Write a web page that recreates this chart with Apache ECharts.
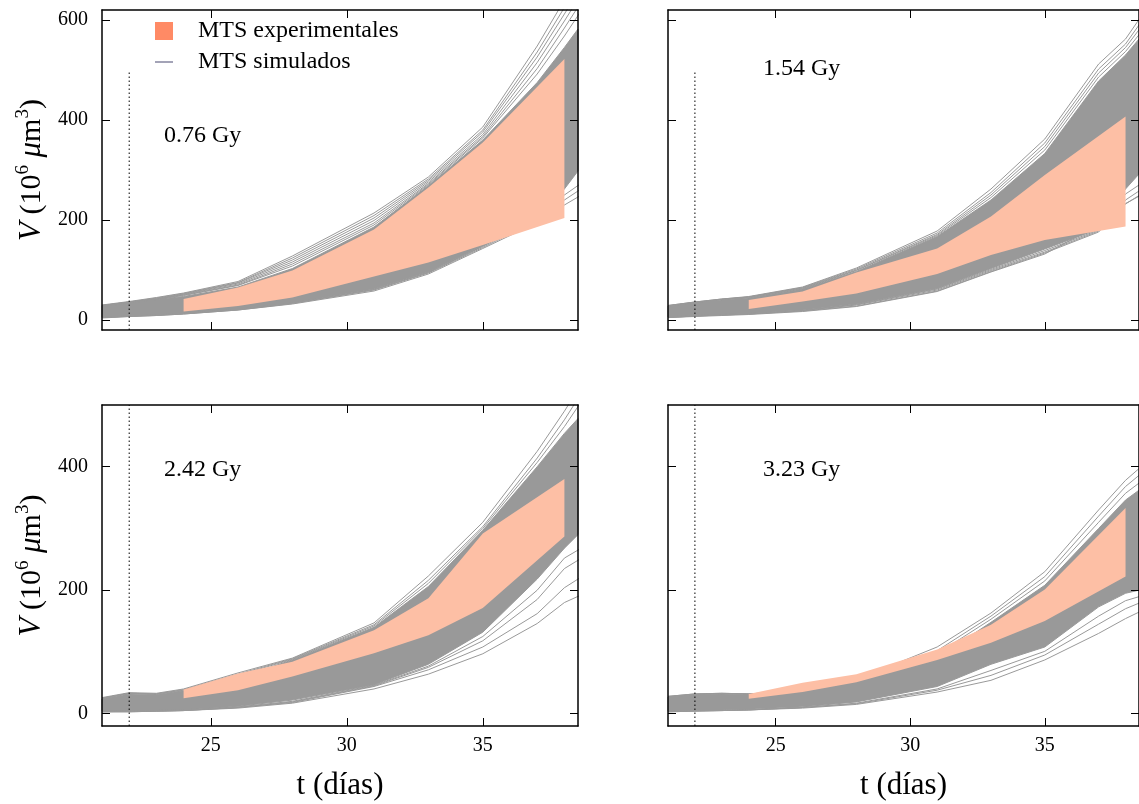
<!DOCTYPE html>
<html>
<head>
<meta charset="utf-8">
<script src="https://cdn.jsdelivr.net/npm/echarts@6/dist/echarts.min.js"></script>
<style>html,body{margin:0;padding:0;background:#fff;}#chart{width:1139px;height:804px;}</style>
</head>
<body>
<div id="chart"></div>
<script>
// ---- data ----
const simDays = [21, 22, 23, 24, 26, 28, 31, 33, 35, 37, 38, 39];
const coreDays = [21, 22, 23, 24, 26, 28, 31, 33, 35, 37, 38, 38.5];
const expDays = [24, 26, 28, 31, 33, 35, 38];
const xTicks = [25, 30, 35];
const yTicksTop = [0, 200, 400, 600];
const yTicksBottom = [0, 200, 400];
const doseLabels = ['0.76 Gy', '1.54 Gy', '2.42 Gy', '3.23 Gy'];
const irradiationDay = [22, 22];
const markerRange = [-20, 500];

const exp076Upper = [42, 65, 99, 181, 265, 355, 522];
const exp076Lower = [17, 28, 45, 87, 115, 150, 204];
const core076Upper = [29, 35, 41, 47, 66, 103, 186, 269, 360, 475, 545, 582];
const core076Lower = [5, 8, 10, 13, 21, 34, 62, 96, 148, 205, 262, 298];
const sim076 = [
  [30, 37, 45, 54, 77, 128, 214, 286, 386, 548, 640, 735],
  [29, 36, 44, 53, 75, 124, 209, 282, 380, 536, 625, 715],
  [29, 36, 43, 52, 74, 120, 204, 279, 376, 526, 612, 700],
  [28, 35, 42, 51, 72, 116, 199, 276, 371, 515, 598, 685],
  [28, 35, 42, 50, 70, 112, 194, 273, 367, 503, 584, 668],
  [27, 34, 41, 49, 69, 108, 190, 271, 364, 492, 568, 650],
  [4, 7, 9, 12, 20, 32, 58, 92, 143, 195, 230, 262],
  [5, 7, 9, 12, 20, 33, 60, 94, 145, 199, 240, 276],
  [5, 8, 10, 13, 21, 34, 61, 95, 147, 203, 250, 288]
];

const exp154Upper = [40, 57, 95, 143, 207, 290, 407];
const exp154Lower = [22, 37, 53, 92, 130, 160, 187];
const core154Upper = [28, 35, 40, 44, 62, 97, 167, 240, 333, 478, 530, 562];
const core154Lower = [6, 9, 11, 13, 20, 32, 63, 103, 142, 182, 262, 292];
const sim154 = [
  [29, 36, 42, 47, 66, 104, 178, 262, 362, 512, 562, 640],
  [29, 36, 42, 46, 65, 102, 174, 255, 354, 502, 552, 628],
  [28, 35, 41, 46, 64, 100, 171, 250, 347, 494, 545, 616],
  [28, 35, 41, 45, 63, 99, 169, 245, 340, 486, 537, 604],
  [5, 7, 9, 11, 17, 27, 57, 96, 132, 190, 233, 262],
  [5, 8, 10, 12, 18, 28, 58, 97, 134, 176, 232, 266],
  [5, 8, 10, 12, 19, 30, 60, 99, 136, 178, 240, 276],
  [6, 9, 11, 13, 19, 31, 62, 101, 139, 180, 252, 288]
];

const exp242Upper = [39, 65, 84, 135, 187, 292, 380];
const exp242Lower = [25, 38, 60, 98, 127, 171, 287];
const core242Upper = [24, 32, 31, 37, 58, 87, 140, 206, 297, 400, 454, 478];
const core242Lower = [4, 4, 5, 6, 12, 22, 47, 80, 132, 218, 268, 290];
const sim242 = [
  [26, 34, 33, 40, 66, 90, 147, 223, 310, 425, 490, 560],
  [25, 33, 32, 39, 64, 89, 144, 216, 303, 414, 476, 545],
  [25, 33, 32, 38, 62, 88, 142, 211, 300, 407, 465, 530],
  [3, 3, 4, 5, 9, 17, 40, 64, 97, 146, 180, 200],
  [3, 3, 4, 5, 10, 18, 44, 71, 108, 162, 204, 232],
  [3, 4, 4, 5, 10, 19, 45, 75, 118, 185, 235, 262],
  [4, 4, 5, 6, 11, 20, 46, 77, 125, 200, 252, 278]
];

const exp323Upper = [32, 50, 64, 104, 144, 201, 333];
const exp323Lower = [24, 35, 51, 87, 115, 150, 222];
const core323Upper = [27, 31, 32, 31, 36, 52, 90, 148, 208, 300, 346, 362];
const core323Lower = [4, 5, 6, 7, 11, 19, 44, 80, 108, 173, 195, 200];
const sim323 = [
  [28, 32, 33, 32, 37, 55, 108, 163, 230, 330, 378, 416],
  [28, 32, 33, 32, 37, 54, 102, 158, 222, 320, 368, 404],
  [27, 31, 32, 32, 36, 53, 97, 153, 215, 310, 357, 390],
  [3, 4, 5, 6, 9, 15, 35, 54, 87, 130, 154, 175],
  [3, 4, 5, 6, 10, 16, 38, 62, 95, 145, 170, 188],
  [4, 5, 5, 6, 10, 17, 40, 70, 101, 158, 183, 196]
];

// ---- layout / style ----
const FONT = 'Liberation Serif';
const GRAY = '#999999';
const SALMON = '#FDBFA5';
const panels = [
  {grid: {left: 102, top: 10, width: 476, height: 320}, yMax: 620, yTicks: yTicksTop, showY: true, showX: false,
   expU: exp076Upper, expL: exp076Lower, coreU: core076Upper, coreL: core076Lower, sims: sim076, label: doseLabels[0], lx: 164, ly: 124},
  {grid: {left: 668, top: 10, width: 476, height: 320}, yMax: 620, yTicks: yTicksTop, showY: false, showX: false,
   expU: exp154Upper, expL: exp154Lower, coreU: core154Upper, coreL: core154Lower, sims: sim154, label: doseLabels[1], lx: 763, ly: 57},
  {grid: {left: 102, top: 405, width: 476, height: 321}, yMax: 500, yTicks: yTicksBottom, showY: true, showX: true,
   expU: exp242Upper, expL: exp242Lower, coreU: core242Upper, coreL: core242Lower, sims: sim242, label: doseLabels[2], lx: 164, ly: 458},
  {grid: {left: 668, top: 405, width: 476, height: 321}, yMax: 500, yTicks: yTicksBottom, showY: false, showX: true,
   expU: exp323Upper, expL: exp323Lower, coreU: core323Upper, coreL: core323Lower, sims: sim323, label: doseLabels[3], lx: 763, ly: 458}
];

function bandRenderer(xs, up, lo, fill, stroke) {
  return function (params, api) {
    if (params.dataIndex !== 0) return null;
    const pts = [];
    for (let i = 0; i < xs.length; i++) pts.push(api.coord([xs[i], up[i]]));
    for (let i = xs.length - 1; i >= 0; i--) pts.push(api.coord([xs[i], lo[i]]));
    return {type: 'polygon', shape: {points: pts},
      style: stroke ? {fill: fill, stroke: stroke, lineWidth: 1} : {fill: fill}};
  };
}

const grids = [], xAxes = [], yAxes = [], series = [], graphics = [];
panels.forEach((p, gi) => {
  grids.push(Object.assign({show: false}, p.grid));
  const lineStyle = {color: '#000', width: 1.5};
  const tick = {inside: true, length: 8, lineStyle: {color: '#000', width: 1}};
  ['bottom', 'top'].forEach((pos) => {
    const main = pos === 'bottom';
    xAxes.push({
      type: 'value', gridIndex: gi, position: pos, min: 21, max: 38.5, z: 10,
      axisLine: {show: true, onZero: false, lineStyle: lineStyle},
      axisTick: Object.assign({customValues: xTicks}, tick),
      axisLabel: {show: main && p.showX, customValues: xTicks, margin: 10,
        fontFamily: FONT, fontSize: 20, color: '#000'},
      splitLine: {show: false},
      name: main && p.showX ? 't (días)' : '', nameLocation: 'middle', nameGap: 44,
      nameTextStyle: {fontFamily: FONT, fontSize: 31, color: '#000'}
    });
  });
  ['left', 'right'].forEach((pos) => {
    const main = pos === 'left';
    yAxes.push({
      type: 'value', gridIndex: gi, position: pos, min: -20, max: p.yMax, z: 10,
      axisLine: {show: true, onZero: false, lineStyle: lineStyle},
      axisTick: Object.assign({customValues: p.yTicks}, tick),
      axisLabel: {show: main && p.showY, customValues: p.yTicks, margin: 14,
        fontFamily: FONT, fontSize: 20, color: '#000'},
      splitLine: {show: false},
      name: main && p.showY ? '{i|V} (10{s|6} {i|μ}m{s|3})' : '', nameLocation: 'middle', nameGap: 52,
      nameTextStyle: {fontFamily: FONT, fontSize: 30, color: '#000', lineHeight: 36,
        rich: {i: {fontFamily: FONT, fontSize: 31, fontStyle: 'italic', color: '#000', lineHeight: 36},
               s: {fontFamily: FONT, fontSize: 19, color: '#000', verticalAlign: 'top', lineHeight: 36}}}
    });
  });
  const xi = gi * 2, yi = gi * 2;
  series.push({
    type: 'custom', name: 'MTS simulados', xAxisIndex: xi, yAxisIndex: yi, z: 1, silent: true,
    renderItem: bandRenderer(coreDays, p.coreU, p.coreL, GRAY, GRAY),
    data: coreDays.map((d, i) => [d, p.coreU[i]]), encode: {x: 0, y: 1}
  });
  p.sims.forEach((vals) => {
    series.push({
      type: 'line', name: 'MTS simulados', xAxisIndex: xi, yAxisIndex: yi, z: 2, silent: true,
      showSymbol: false, symbol: 'none', clip: true,
      lineStyle: {color: GRAY, width: 1}, itemStyle: {color: GRAY},
      data: simDays.map((d, i) => [d, vals[i]])
    });
  });
  series.push({
    type: 'custom', name: 'MTS experimentales', xAxisIndex: xi, yAxisIndex: yi, z: 3, silent: true,
    renderItem: bandRenderer(expDays, p.expU, p.expL, SALMON, null),
    itemStyle: {color: SALMON},
    data: expDays.map((d, i) => [d, p.expU[i]]), encode: {x: 0, y: 1}
  });
  series.push({
    type: 'line', name: 'irradiación', xAxisIndex: xi, yAxisIndex: yi, z: 5, silent: true,
    showSymbol: false, symbol: 'none',
    lineStyle: {color: '#000', width: 1, type: [1.5, 2.5]},
    data: irradiationDay.map((d, i) => [d, markerRange[i]])
  });
  graphics.push({type: 'text', left: p.lx, top: p.ly, z: 20,
    style: {text: p.label, fontFamily: FONT, fontSize: 24, fill: '#000'}});
});

const chart = echarts.init(document.getElementById('chart'), null, {renderer: 'canvas'});
chart.setOption({
  animation: false,
  backgroundColor: '#fff',
  grid: grids,
  xAxis: xAxes,
  yAxis: yAxes,
  legend: {
    show: true, orient: 'vertical', left: 150, top: 14, itemWidth: 18, itemHeight: 18, itemGap: 7,
    selectedMode: false, symbolKeepAspect: true,
    textStyle: {fontFamily: FONT, fontSize: 24, color: '#000', padding: [0, 0, 0, 20]},
    data: [
      {name: 'MTS experimentales', icon: 'rect', itemStyle: {color: '#FF8A65'}},
      {name: 'MTS simulados', icon: 'path://M0,0H20V1.2H0Z', itemStyle: {color: '#55557A'}}
    ]
  },
  graphic: graphics,
  series: series
});
</script>
</body>
</html>
